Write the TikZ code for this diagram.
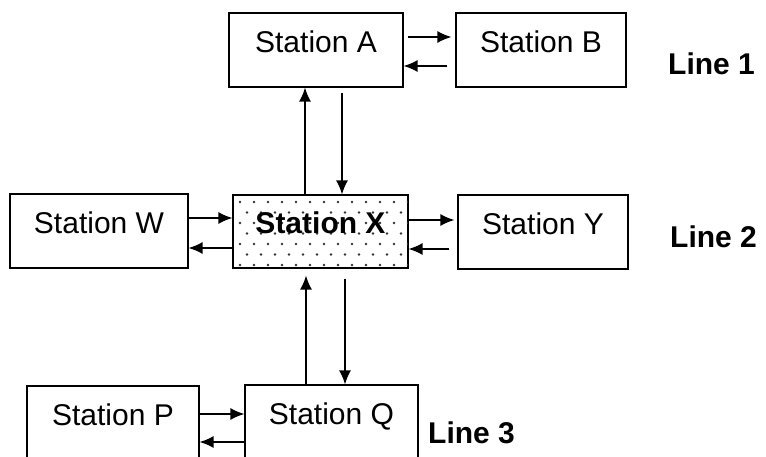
\documentclass[tikz,border=0pt]{standalone}
\usepackage{fontspec}
\setmainfont{Liberation Sans}
\usetikzlibrary{arrows.meta,calc}
\begin{document}
\begin{tikzpicture}[x=1pt,y=-1pt,
  stbox/.style={draw=black,line width=1.2pt,minimum width=174pt,minimum height=74pt,
    inner sep=0pt,font=\fontsize{30}{30}\selectfont,text height=21pt,text depth=16pt},
  arr/.style={line width=1.4pt,-{Latex[length=14pt,width=12pt]}},
  linelbl/.style={anchor=base west,inner sep=0pt,font=\fontsize{30}{30}\selectfont\bfseries}]
\useasboundingbox (0,0) rectangle (766,457);
\clip (0,0) rectangle (766,457);
% boxes
\node[stbox] (A) at (316,50) {Station A};
\node[stbox,minimum width=170pt] (B) at (541,50) {Station B};
\node[stbox,minimum width=178pt] (W) at (99,231) {Station W};
\node[stbox,minimum width=175pt,minimum height=73pt] (X) at (320.5,231.5) {};
\node[stbox,minimum width=170pt] (Y) at (543,232) {Station Y};
\node[stbox,minimum width=172pt] (P) at (113,423) {Station P};
\node[stbox,minimum width=173pt] (Q) at (331.5,422) {Station Q};
% dotted fill of X
\begin{scope}
\clip (X.north west) rectangle (X.south east);
\foreach \r in {0,...,6}{
  \pgfmathsetmacro{\off}{mod(\r,2)*7}
  \foreach \c in {0,...,13}{
    \fill[black!80] (240+\c*14+\off,202+\r*10.5) circle (1.4pt);
  }
}
\end{scope}
\node[stbox,draw=none,minimum width=175pt,minimum height=73pt,font=\fontsize{30}{30}\selectfont\bfseries] (Xt) at (X) {Station X};
\draw[line width=1.2pt] (X.north west) rectangle (X.south east);
% helper coordinates
\coordinate (c1) at (305,0);
\coordinate (c2) at (342,0);
\coordinate (c3) at (306,0);
\coordinate (c4) at (345,0);
% line 1
\draw[arr] ([yshift=13pt,xshift=4pt]A.east) -- ([yshift=13pt,xshift=-4pt]B.west);
\draw[arr] ([yshift=-16pt,xshift=-8pt]B.west) -- ([yshift=-16pt]A.east);
% A - X
\draw[arr] (X.north -| c1) -- (A.south -| c1);
\draw[arr] ([yshift=-5pt]A.south -| c2) -- (X.north -| c2);
% line 2
\draw[arr] ([yshift=13pt]W.east) -- ([yshift=13.5pt]X.west);
\draw[arr] ([yshift=-16.5pt]X.west) -- ([yshift=-17pt]W.east);
\draw[arr] ([yshift=11.5pt]X.east) -- ([yshift=12pt,xshift=-3pt]Y.west);
\draw[arr] ([yshift=-17pt,xshift=-8pt]Y.west) -- ([yshift=-17.5pt]X.east);
% X - Q
\draw[arr] (Q.north -| c3) -- ([yshift=-7pt]X.south -| c3);
\draw[arr] ([yshift=-10pt]X.south -| c4) -- (Q.north -| c4);
% line 3
\draw[arr] ([yshift=9pt]P.east) -- ([yshift=8pt]Q.west);
\draw[arr] ([yshift=-20pt]Q.west) -- ([yshift=-19pt]P.east);
% labels
\node[linelbl] (L1) at (668,75) {Line 1};
\node[linelbl] (L2) at (670,248) {Line 2};
\node[linelbl] (L3) at (428,443) {Line 3};
\end{tikzpicture}
\end{document}
